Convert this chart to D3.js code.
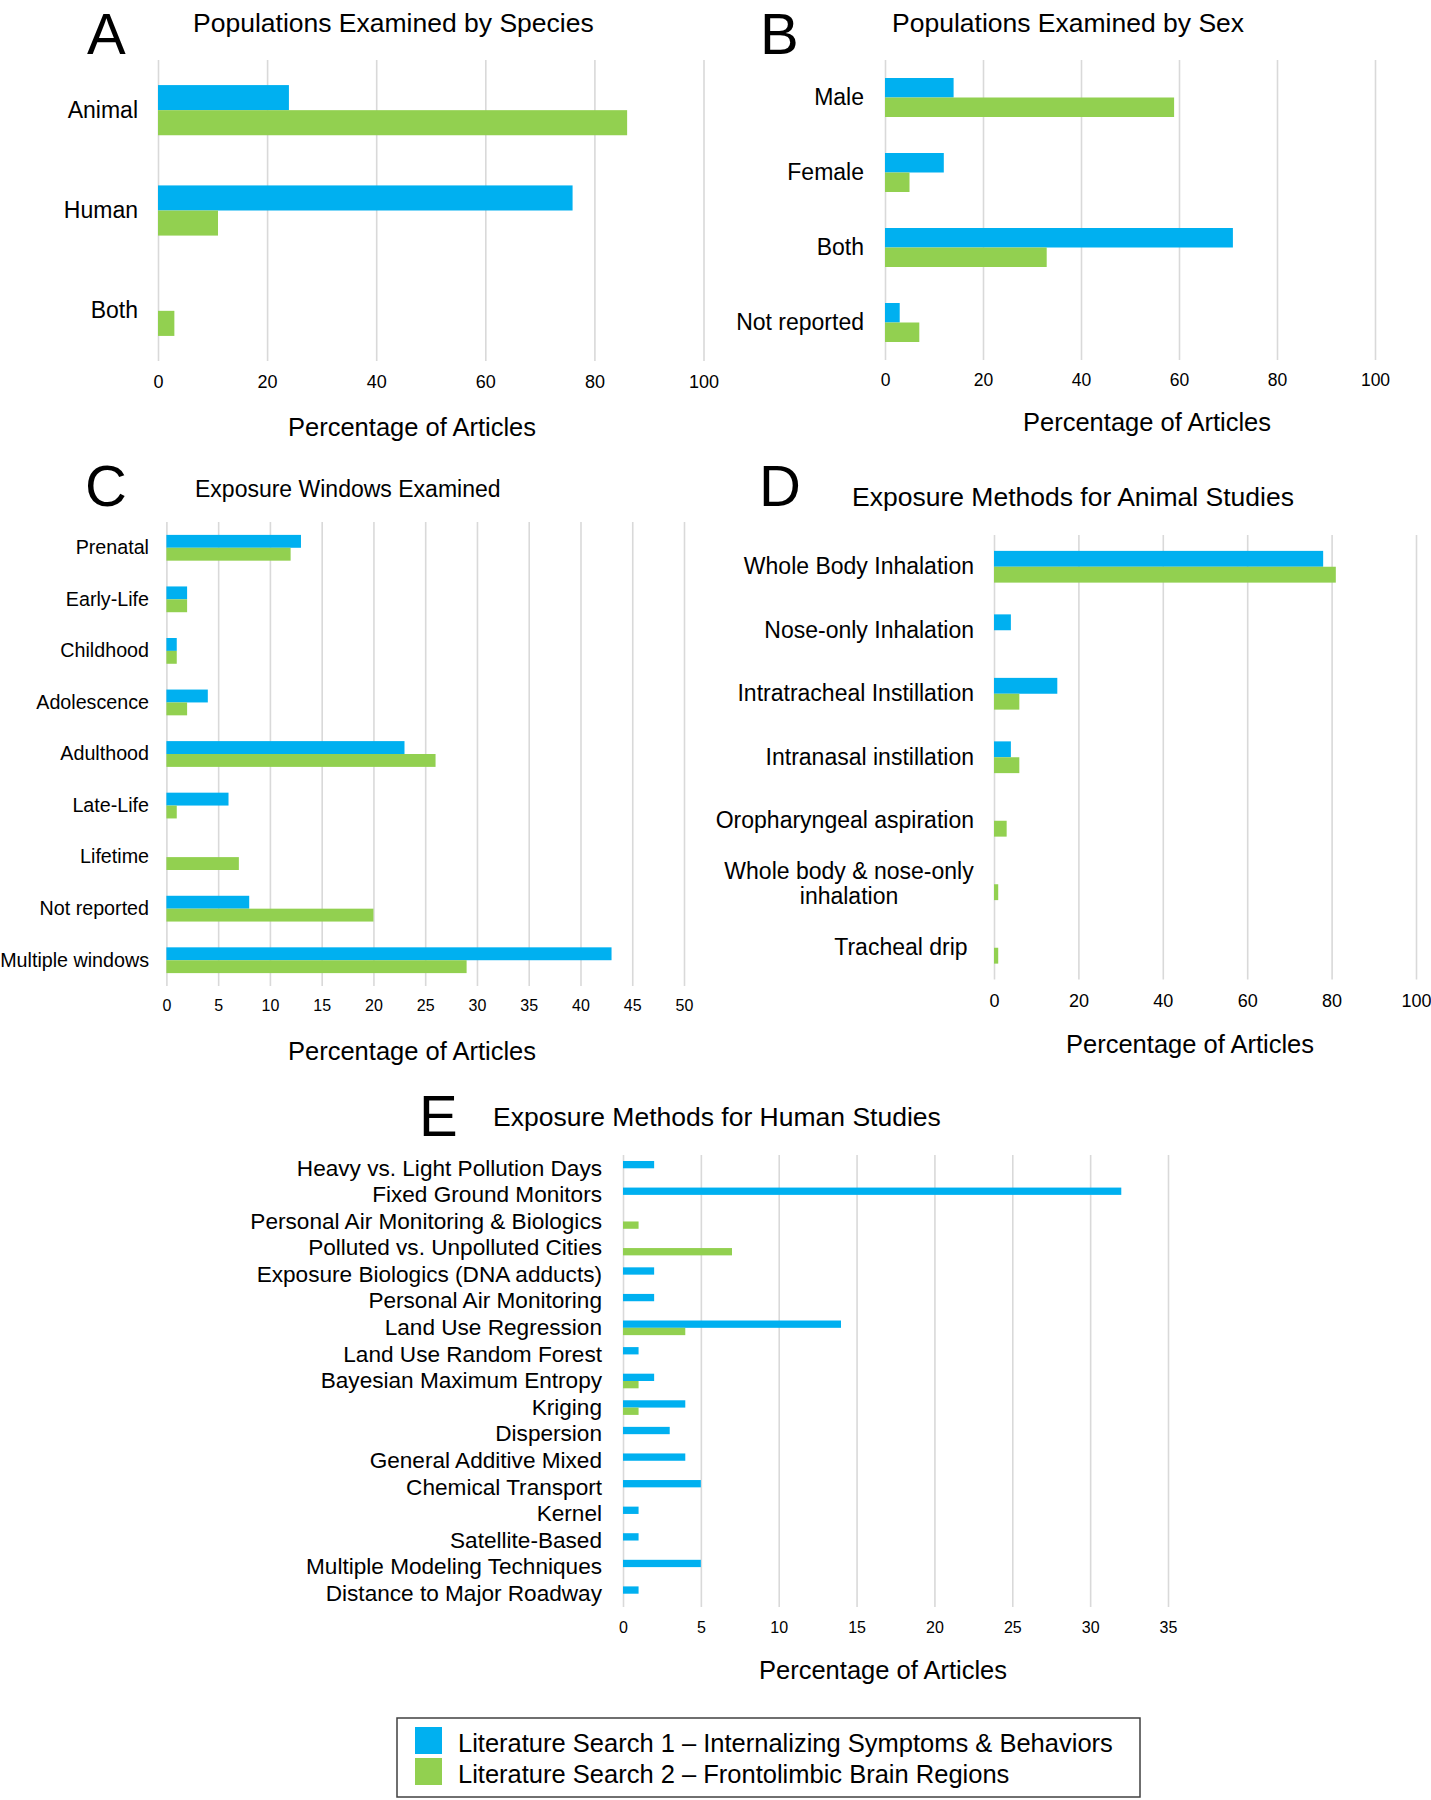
<!DOCTYPE html>
<html>
<head>
<meta charset="utf-8">
<script src="https://cdn.jsdelivr.net/npm/d3@7"></script>
<style>
  body { margin: 0; background: #fff; }
  svg text { font-family: "Liberation Sans", Arial, Helvetica, sans-serif; fill: #000; }
</style>
</head>
<body>
<svg id="chart" width="1431" height="1800"></svg>
<script>
// ---------------- DATA ----------------
const seriesNames = ["Literature Search 1 \u2013 Internalizing Symptoms & Behaviors",
                     "Literature Search 2 \u2013 Frontolimbic Brain Regions"];
const seriesColors = ["#00B0F0", "#92D050"];

const speciesCats = ["Animal", "Human", "Both"];
const speciesSearch1 = [24, 76, 0];
const speciesSearch2 = [86, 11, 3];

const sexCats = ["Male", "Female", "Both", "Not reported"];
const sexSearch1 = [14, 12, 71, 3];
const sexSearch2 = [59, 5, 33, 7];

const windowCats = ["Prenatal", "Early-Life", "Childhood", "Adolescence", "Adulthood",
                    "Late-Life", "Lifetime", "Not reported", "Multiple windows"];
const windowSearch1 = [13, 2, 1, 4, 23, 6, 0, 8, 43];
const windowSearch2 = [12, 2, 1, 2, 26, 1, 7, 20, 29];

const animalCats = ["Whole Body Inhalation", "Nose-only Inhalation", "Intratracheal Instillation",
                    "Intranasal instillation", "Oropharyngeal aspiration",
                    "Whole body & nose-only\ninhalation", "Tracheal drip "];
const animalSearch1 = [78, 4, 15, 4, 0, 0, 0];
const animalSearch2 = [81, 0, 6, 6, 3, 1, 1];

const humanCats = ["Heavy vs. Light Pollution Days", "Fixed Ground Monitors",
                   "Personal Air Monitoring & Biologics", "Polluted vs. Unpolluted Cities",
                   "Exposure Biologics (DNA adducts)", "Personal Air Monitoring",
                   "Land Use Regression", "Land Use Random Forest", "Bayesian Maximum Entropy",
                   "Kriging", "Dispersion", "General Additive Mixed", "Chemical Transport",
                   "Kernel", "Satellite-Based", "Multiple Modeling Techniques",
                   "Distance to Major Roadway"];
const humanSearch1 = [2, 32, 0, 0, 2, 2, 14, 1, 2, 4, 3, 4, 5, 1, 1, 5, 1];
const humanSearch2 = [0, 0, 1, 7, 0, 0, 4, 0, 1, 1, 0, 0, 0, 0, 0, 0, 0];

const ticks100 = [0, 20, 40, 60, 80, 100];
const ticks50 = [0, 5, 10, 15, 20, 25, 30, 35, 40, 45, 50];
const ticks35 = [0, 5, 10, 15, 20, 25, 30, 35];

const panelLetters = ["A", "B", "C", "D", "E"];
const panelTitles = ["Populations Examined by Species", "Populations Examined by Sex",
                     "Exposure Windows Examined", "Exposure Methods for Animal Studies",
                     "Exposure Methods for Human Studies"];
const axisTitle = "Percentage of Articles";

// ---------------- DRAW ----------------
const svg = d3.select("#chart");
svg.append("rect").attr("width", 1431).attr("height", 1800).attr("fill", "#fff");

function drawPanel(cfg) {
  const g = svg.append("g");
  const x = d3.scaleLinear().domain([0, cfg.max]).range([cfg.x0, cfg.x1]);
  const y = d3.scaleBand().domain(cfg.cats).range([cfg.top, cfg.bottom])
              .paddingInner(cfg.pad).paddingOuter(cfg.pad / 2);
  const sub = d3.scaleBand().domain([0, 1]).range([0, y.bandwidth()]);

  // gridlines + tick labels
  const gx = g.append("g").attr("transform", `translate(0,${cfg.bottom})`)
    .call(d3.axisBottom(x).tickValues(cfg.ticks).tickSize(-(cfg.bottom - cfg.top)).tickFormat(d3.format("d")));
  gx.select(".domain").remove();
  gx.selectAll(".tick line").attr("stroke", "#d9d9d9").attr("stroke-width", 1.6);
  gx.selectAll(".tick text").attr("dy", null).attr("y", cfg.tickBase - cfg.bottom)
    .attr("font-size", cfg.tickSize).attr("fill", "#000")
    .style("font-family", '"Liberation Sans", Arial, sans-serif');

  // bars
  const rows = cfg.cats.map((c, i) => ({ c, v: [cfg.s1[i], cfg.s2[i]] }));
  const rg = g.selectAll("g.row").data(rows).join("g").attr("class", "row")
    .attr("transform", d => `translate(0,${y(d.c)})`);
  rg.selectAll("rect").data(d => d.v.map((v, k) => ({ v, k })).filter(e => e.v > 0)).join("rect")
    .attr("x", x(0))
    .attr("y", e => sub(e.k))
    .attr("width", e => x(e.v) - x(0))
    .attr("height", sub.bandwidth())
    .attr("fill", e => seriesColors[e.k]);

  // category labels
  const gy = g.append("g").attr("transform", `translate(${cfg.labelX},0)`)
    .call(d3.axisLeft(y).tickSize(0).tickPadding(0));
  gy.select(".domain").remove();
  gy.selectAll(".tick text").attr("font-size", cfg.labelSize).attr("fill", "#000")
    .style("font-family", '"Liberation Sans", Arial, sans-serif')
    .style("white-space", "pre")
    .each(function(d) {
      if (d.indexOf("\n") >= 0) {
        const parts = d.split("\n");
        const t = d3.select(this).text(null).attr("text-anchor", "middle").attr("dy", null)
          .attr("x", -cfg.multiOffset);
        parts.forEach((p, i) => {
          t.append("tspan").attr("x", -cfg.multiOffset)
            .attr("dy", i === 0 ? (-(parts.length - 1) * 0.55 + 0.32) + "em" : "1.1em").text(p);
        });
      }
    });

  // titles
  g.append("text").attr("x", cfg.letterX).attr("y", cfg.letterY).text(cfg.letter)
    .attr("font-size", 58);
  g.append("text").attr("x", cfg.titleX).attr("y", cfg.titleY).text(cfg.title)
    .attr("font-size", cfg.titleSize);
  g.append("text").attr("x", cfg.axX).attr("y", cfg.axY).text(axisTitle)
    .attr("font-size", 25.5);
}

drawPanel({ cats: speciesCats, s1: speciesSearch1, s2: speciesSearch2, ticks: ticks100, max: 100,
  x0: 158, x1: 703.5, top: 60, bottom: 361, pad: 0.5, labelX: 138, labelSize: 23,
  tickSize: 18, tickBase: 388, letter: panelLetters[0], letterX: 87, letterY: 54,
  title: panelTitles[0], titleX: 193, titleY: 32, titleSize: 26.5, axX: 288, axY: 436 });

drawPanel({ cats: sexCats, s1: sexSearch1, s2: sexSearch2, ticks: ticks100, max: 100,
  x0: 885, x1: 1375, top: 60, bottom: 360, pad: 0.48, labelX: 864, labelSize: 23,
  tickSize: 17.5, tickBase: 386, letter: panelLetters[1], letterX: 760, letterY: 54,
  title: panelTitles[1], titleX: 892, titleY: 32, titleSize: 26.5, axX: 1023, axY: 431 });

drawPanel({ cats: windowCats, s1: windowSearch1, s2: windowSearch2, ticks: ticks50, max: 50,
  x0: 166.4, x1: 684, top: 522, bottom: 986, pad: 0.5, labelX: 149, labelSize: 19.7,
  tickSize: 16, tickBase: 1011, letter: panelLetters[2], letterX: 85, letterY: 506,
  title: panelTitles[2], titleX: 195, titleY: 497, titleSize: 23, axX: 288, axY: 1060 });

drawPanel({ cats: animalCats, s1: animalSearch1, s2: animalSearch2, ticks: ticks100, max: 100,
  x0: 994, x1: 1416, top: 535, bottom: 979.5, pad: 0.5, labelX: 974, labelSize: 23,
  multiOffset: 125, tickSize: 18, tickBase: 1007, letter: panelLetters[3], letterX: 759, letterY: 506,
  title: panelTitles[3], titleX: 852, titleY: 506, titleSize: 26.5, axX: 1066, axY: 1053 });

drawPanel({ cats: humanCats, s1: humanSearch1, s2: humanSearch2, ticks: ticks35, max: 35,
  x0: 623, x1: 1168, top: 1155, bottom: 1607, pad: 0.45, labelX: 602, labelSize: 22.6,
  tickSize: 16, tickBase: 1633, letter: panelLetters[4], letterX: 419, letterY: 1136,
  title: panelTitles[4], titleX: 493, titleY: 1126, titleSize: 26.5, axX: 759, axY: 1679 });

// legend
const lg = svg.append("g");
lg.append("rect").attr("x", 397).attr("y", 1718).attr("width", 743).attr("height", 79)
  .attr("fill", "#fff").attr("stroke", "#404040").attr("stroke-width", 1.5);
const li = lg.selectAll("g.li").data(seriesNames).join("g").attr("class", "li")
  .attr("transform", (d, i) => `translate(415,${1727 + i * 31})`);
li.append("rect").attr("width", 27).attr("height", 27).attr("fill", (d, i) => seriesColors[i]);
li.append("text").attr("x", 43).attr("y", 25).attr("font-size", 25.5).text(d => d);
</script>
</body>
</html>
